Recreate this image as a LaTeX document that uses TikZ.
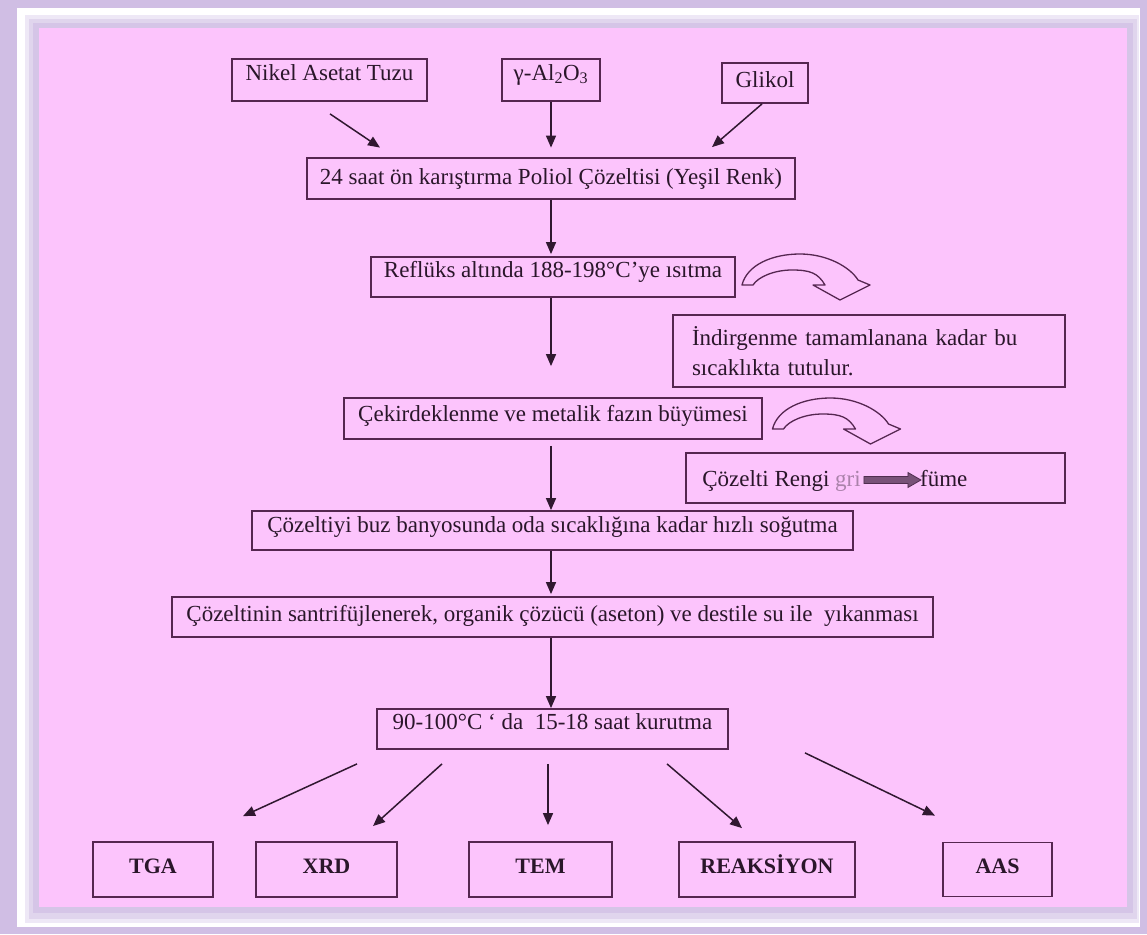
\documentclass[tikz,border=0pt]{standalone}
\usepackage{fontspec}
\setmainfont{Liberation Serif}
\usetikzlibrary{arrows.meta,calc}
\definecolor{lav}{RGB}{208,190,228}
\definecolor{pinkbg}{RGB}{252,196,252}
\definecolor{boxline}{RGB}{85,38,80}
\definecolor{txt}{RGB}{42,22,42}
\definecolor{arrowc}{RGB}{48,24,48}
\definecolor{grey}{RGB}{170,130,170}
\definecolor{arrfill}{RGB}{120,82,120}
\definecolor{arrdraw}{RGB}{80,45,80}
\tikzset{
  box/.style={draw=boxline,line width=1.8pt,text=txt,inner sep=0pt,
    text height=16pt,text depth=10pt,
    font=\fontsize{23}{27}\selectfont},
  blmid/.style={text height=16pt,text depth=16pt},
  bllow/.style={text height=16pt,text depth=4pt},
  bbox/.style={draw=boxline,line width=1.8pt,text=txt,inner sep=0pt,
    text height=14pt,text depth=6pt,
    font=\fontsize{22}{25}\selectfont\bfseries,minimum height=55pt},
  arr/.style={draw=arrowc,line width=1.5pt,-{Triangle[length=12pt,width=10pt]}},
  curvarr/.pic={\draw[boxline,line width=1.3pt,line join=round]
    (0,0) .. controls (5,20) and (30,31) .. (58,31)
    .. controls (85,31) and (108,18) .. (116,5) -- (128,0) -- (98,-15)
    -- (71,0) -- (83,0) .. controls (76,12) and (68,15) .. (50,15)
    .. controls (32,15) and (16,8) .. (11,0) -- cycle;}
}
\begin{document}
\begin{tikzpicture}[x=1pt,y=1pt]
\useasboundingbox (0,0) rectangle (1147,-934);
% frame
\fill[lav] (0,0) rectangle (1147,-934);
\fill[white] (17,-8) rectangle (1140,-927);
\fill[lav!35] (25,-15) rectangle (1139,-923);
\fill[lav!65] (29,-19) rectangle (1137,-919);
\fill[lav!90] (33,-23) rectangle (1133,-913);
\fill[pinkbg] (39,-28) rectangle (1127,-907);

% top inputs
\node[box,blmid,minimum width=195pt,minimum height=42pt] (nikel) at (329.5,-80) {Nikel Asetat Tuzu};
\node[box,blmid,minimum width=98pt,minimum height=42pt] (gamma) at (551,-80) {γ-Al\textsubscript{2}O\textsubscript{3}};
\node[box,text depth=8pt,minimum width=86pt,minimum height=40pt] (glikol) at (765,-83) {Glikol};

% main column
\node[box,bllow,minimum width=488pt,minimum height=41pt] (mix) at (551,-178.5) {24 saat ön karıştırma Poliol Çözeltisi (Yeşil Renk)};
\node[box,blmid,minimum width=364pt,minimum height=40pt] (reflux) at (553,-277) {Reflüks altında 188-198°C’ye ısıtma};
\node[box,minimum width=418pt,minimum height=41pt] (cekir) at (553,-418.5) {Çekirdeklenme ve metalik fazın büyümesi};
\node[box,text depth=12pt,minimum width=601pt,minimum height=39pt] (buz) at (552.5,-530.5) {Çözeltiyi buz banyosunda oda sıcaklığına kadar hızlı soğutma};
\node[box,text depth=8pt,minimum width=761pt,minimum height=40pt] (santri) at (552.5,-617) {Çözeltinin santrifüjlenerek, organik çözücü (aseton) ve destile su ile\ \ yıkanması};
\node[box,blmid,minimum width=351pt,minimum height=40pt] (kurut) at (552.5,-729) {90-100°C ‘ da\ \ 15-18 saat kurutma};

% side boxes
\node[box,minimum width=392pt,minimum height=72pt,text width=354pt,align=left,
  text height=,text depth=,
  font=\fontsize{23}{30}\selectfont] (indir) at (869,-351)
  {İndirgenme tamamlanana kadar bu\\sıcaklıkta tutulur.};
\node[box,minimum width=379pt,minimum height=50pt] (renk) at (875.5,-478) {};
\node[text=txt,inner sep=0pt,anchor=base west,font=\fontsize{23}{27}\selectfont]
  (renkA) at ($(renk.west)+(17,-8)$) {Çözelti Rengi \textcolor{grey}{gri}};
\coordinate (blkS) at ($(renkA.east |- renk.center)+(3,-2)$);
\fill[arrfill,draw=arrdraw,line width=0.8pt]
  ($(blkS)+(0,3.5)$) -- ++(44,0) -- ++(0,4) -- ++(13,-7.5) -- ++(-13,-7.5) -- ++(0,4) -- ++(-44,0) -- cycle;
\node[text=txt,inner sep=0pt,anchor=base west,font=\fontsize{23}{27}\selectfont]
  (renkB) at ($(renkA.base east)+(59,0)$) {füme};

% curved block arrows
\pic at (742,-285) {curvarr};
\pic at (772.5,-429) {curvarr};

% bottom boxes
\node[bbox,minimum width=120pt] (tga) at (153,-869.5) {TGA};
\node[bbox,minimum width=141pt] (xrd) at (326.5,-869.5) {XRD};
\node[bbox,minimum width=143pt] (tem) at (540.5,-869.5) {TEM};
\node[bbox,minimum width=176pt] (reak) at (767,-869.5) {REAKSİYON};
\node[bbox,minimum width=109pt,minimum height=54pt] (aas) at (997.5,-869.5) {AAS};

% top arrows
\draw[arr] ($(nikel.south)+(0.5,-12)$) -- ($(mix.north)+(-171,9.5)$);
\draw[arr,shorten >=9.5pt] (gamma.south) -- (mix.north);
\draw[arr] ($(glikol.south)+(-3,0)$) -- ($(mix.north)+(161,10)$);

% column arrows
\draw[arr,shorten >=2pt] (mix.south) -- (mix.south |- reflux.north);
\draw[arr,shorten >=31pt] (mix.south |- reflux.south) -- (mix.south |- cekir.north);
\draw[arr,shorten <=6pt] (mix.south |- cekir.south) -- (mix.south |- buz.north);
\draw[arr,shorten >=2pt] (mix.south |- buz.south) -- (mix.south |- santri.north);
\draw[arr] (mix.south |- santri.south) -- (mix.south |- kurut.north);

% bottom arrows
\draw[arr] ($(kurut.south)+(-195.5,-14)$) -- ($(tga.north)+(90,25)$);
\draw[arr] ($(kurut.south)+(-110.5,-14)$) -- ($(xrd.north)+(46.5,15)$);
\draw[arr] ($(kurut.south)+(-4.5,-14)$) -- ($(tem.north)+(7.5,16)$);
\draw[arr] ($(kurut.south)+(114.5,-14)$) -- ($(reak.north)+(-25,13)$);
\draw[arr] ($(kurut.south)+(252.5,-3)$) -- ($(aas.north)+(-62.5,26)$);
\end{tikzpicture}
\end{document}
